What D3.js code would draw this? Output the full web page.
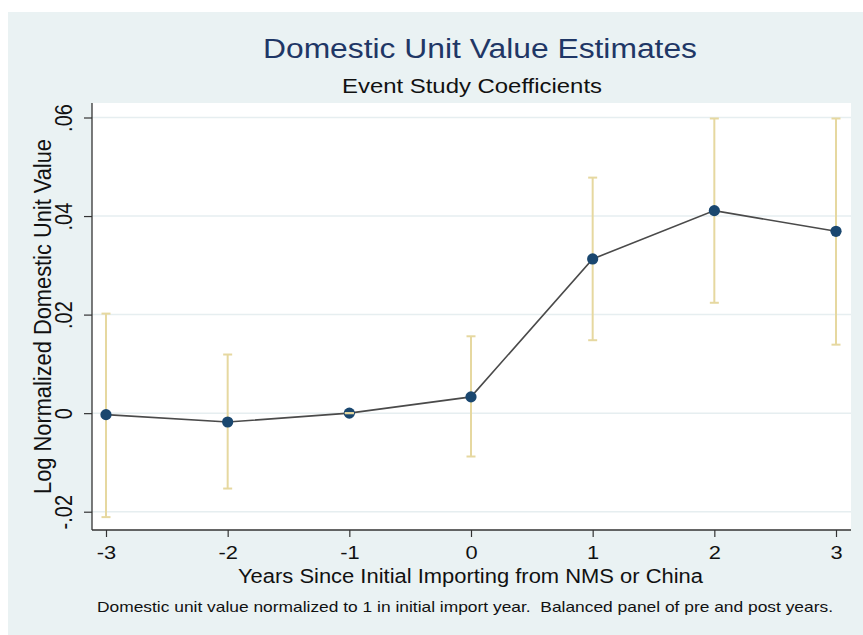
<!DOCTYPE html>
<html>
<head>
<meta charset="utf-8">
<script src="https://cdn.jsdelivr.net/npm/d3@7"></script>
<style>
  html, body { margin: 0; padding: 0; background: #ffffff; }
  svg { display: block; font-family: "Liberation Sans", Arial, Helvetica, sans-serif; }
  text { white-space: pre; }
</style>
</head>
<body>
<svg id="chart" width="863" height="635"></svg>
<script>
// ---- data ----
const years = [-3, -2, -1, 0, 1, 2, 3];
const coef = [-0.0003, -0.0018, 0.0, 0.0033, 0.0313, 0.0411, 0.0369];
const ciLow = [-0.0211, -0.0153, 0.0, -0.0088, 0.0148, 0.0224, 0.0139];
const ciHigh = [0.0202, 0.0119, 0.0, 0.0156, 0.0478, 0.0598, 0.0598];
const yTicks = [-0.02, 0, 0.02, 0.04, 0.06];
const yTickLabels = ["-.02", "0", ".02", ".04", ".06"];
const xTicks = [-3, -2, -1, 0, 1, 2, 3];
const xTickLabels = ["-3", "-2", "-1", "0", "1", "2", "3"];

const titleText = "Domestic Unit Value Estimates";
const subtitleText = "Event Study Coefficients";
const xTitle = "Years Since Initial Importing from NMS or China";
const yTitle = "Log Normalized Domestic Unit Value";
const noteText = "Domestic unit value normalized to 1 in initial import year.  Balanced panel of pre and post years.";

// ---- layout ----
const svg = d3.select("#chart");
const bg = { x: 8, y: 12, w: 855, h: 623 };
const plot = { left: 92, right: 851, top: 103, bottom: 530 };
const stretch = 1.15;

const x = d3.scaleLinear().domain([-3, 3]).range([106, 836]);
const y = d3.scaleLinear().domain([-0.02, 0.06]).range([511.7, 117.5]);

svg.append("rect").attr("x", bg.x).attr("y", bg.y).attr("width", bg.w).attr("height", bg.h)
  .attr("fill", "#eaf2f3");
svg.append("rect").attr("x", plot.left).attr("y", plot.top)
  .attr("width", plot.right - plot.left).attr("height", plot.bottom - plot.top)
  .attr("fill", "#ffffff");

// gridlines
svg.append("g").selectAll("line").data(yTicks).join("line")
  .attr("x1", plot.left).attr("x2", plot.right)
  .attr("y1", d => y(d)).attr("y2", d => y(d))
  .attr("stroke", "#e6eef0").attr("stroke-width", 1.5);

// axes
const yAxis = d3.axisLeft(y).tickValues(yTicks).tickSize(8)
  .tickFormat((d, i) => yTickLabels[i]);
const gy = svg.append("g").attr("transform", `translate(${plot.left},0)`).call(yAxis);
gy.select(".domain").remove();
gy.selectAll(".tick line").attr("stroke", "#333").attr("stroke-width", 1.2);
gy.selectAll(".tick text").remove();
gy.selectAll(".tick").append("text")
  .attr("transform", `translate(-20,0) scale(${stretch},1) rotate(-90)`)
  .attr("text-anchor", "middle")
  .attr("fill", "#111")
  .attr("font-size", 20)
  .text((d, i) => yTickLabels[i]);

svg.append("line").attr("x1", plot.left).attr("x2", plot.left)
  .attr("y1", plot.top).attr("y2", plot.bottom)
  .attr("stroke", "#333").attr("stroke-width", 1.3);

const xAxis = d3.axisBottom(x).tickValues(xTicks).tickSize(7)
  .tickFormat((d, i) => xTickLabels[i]);
const gx = svg.append("g").attr("transform", `translate(0,${plot.bottom})`).call(xAxis);
gx.select(".domain").remove();
gx.selectAll(".tick line").attr("stroke", "#333").attr("stroke-width", 1.2);
gx.selectAll(".tick text").remove();
gx.selectAll(".tick").append("text")
  .attr("transform", `translate(0,29) scale(${stretch},1)`)
  .attr("text-anchor", "middle")
  .attr("font-size", 19).attr("fill", "#111")
  .text((d, i) => xTickLabels[i]);

svg.append("line").attr("x1", plot.left).attr("x2", plot.right)
  .attr("y1", plot.bottom).attr("y2", plot.bottom)
  .attr("stroke", "#333").attr("stroke-width", 1.3);

// data
const rows = years.map((yr, i) => ({ yr, c: coef[i], lo: ciLow[i], hi: ciHigh[i] }));
const ciColor = "#e6d8a0";
const capW = 4.5;

svg.append("g").selectAll("line").data(rows).join("line")
  .attr("x1", d => x(d.yr)).attr("x2", d => x(d.yr))
  .attr("y1", d => y(d.lo)).attr("y2", d => y(d.hi))
  .attr("stroke", ciColor).attr("stroke-width", 2);

svg.append("path").datum(rows)
  .attr("d", d3.line().x(d => x(d.yr)).y(d => y(d.c)))
  .attr("fill", "none").attr("stroke", "#4a4a4a").attr("stroke-width", 1.6);

svg.append("g").selectAll("circle").data(rows).join("circle")
  .attr("cx", d => x(d.yr)).attr("cy", d => y(d.c)).attr("r", 5.6)
  .attr("fill", "#1a476f");

const caps = svg.append("g");
rows.forEach(d => {
  [d.lo, d.hi].forEach(v => {
    caps.append("line")
      .attr("x1", x(d.yr) - capW).attr("x2", x(d.yr) + capW)
      .attr("y1", y(v)).attr("y2", y(v))
      .attr("stroke", ciColor).attr("stroke-width", 2);
  });
});

// texts
function htext(str, cx, baseline, size, len, color, anchor) {
  return svg.append("text").attr("x", cx).attr("y", baseline)
    .attr("text-anchor", anchor || "middle")
    .attr("font-size", size).attr("fill", color)
    .attr("textLength", len).attr("lengthAdjust", "spacingAndGlyphs")
    .text(str);
}
htext(titleText, 480, 57.7, 27, 434, "#1f3766");
htext(subtitleText, 472, 92.7, 21, 260, "#111");
htext(xTitle, 470.5, 583, 19.5, 465, "#111");
htext(noteText, 97, 612, 15, 736, "#111", "start");

svg.append("text")
  .attr("transform", `translate(51,${(plot.top + plot.bottom) / 2}) scale(${stretch},1) rotate(-90)`)
  .attr("text-anchor", "middle").attr("font-size", 21).attr("fill", "#111")
  .attr("textLength", 355).attr("lengthAdjust", "spacingAndGlyphs")
  .text(yTitle);
</script>
</body>
</html>
